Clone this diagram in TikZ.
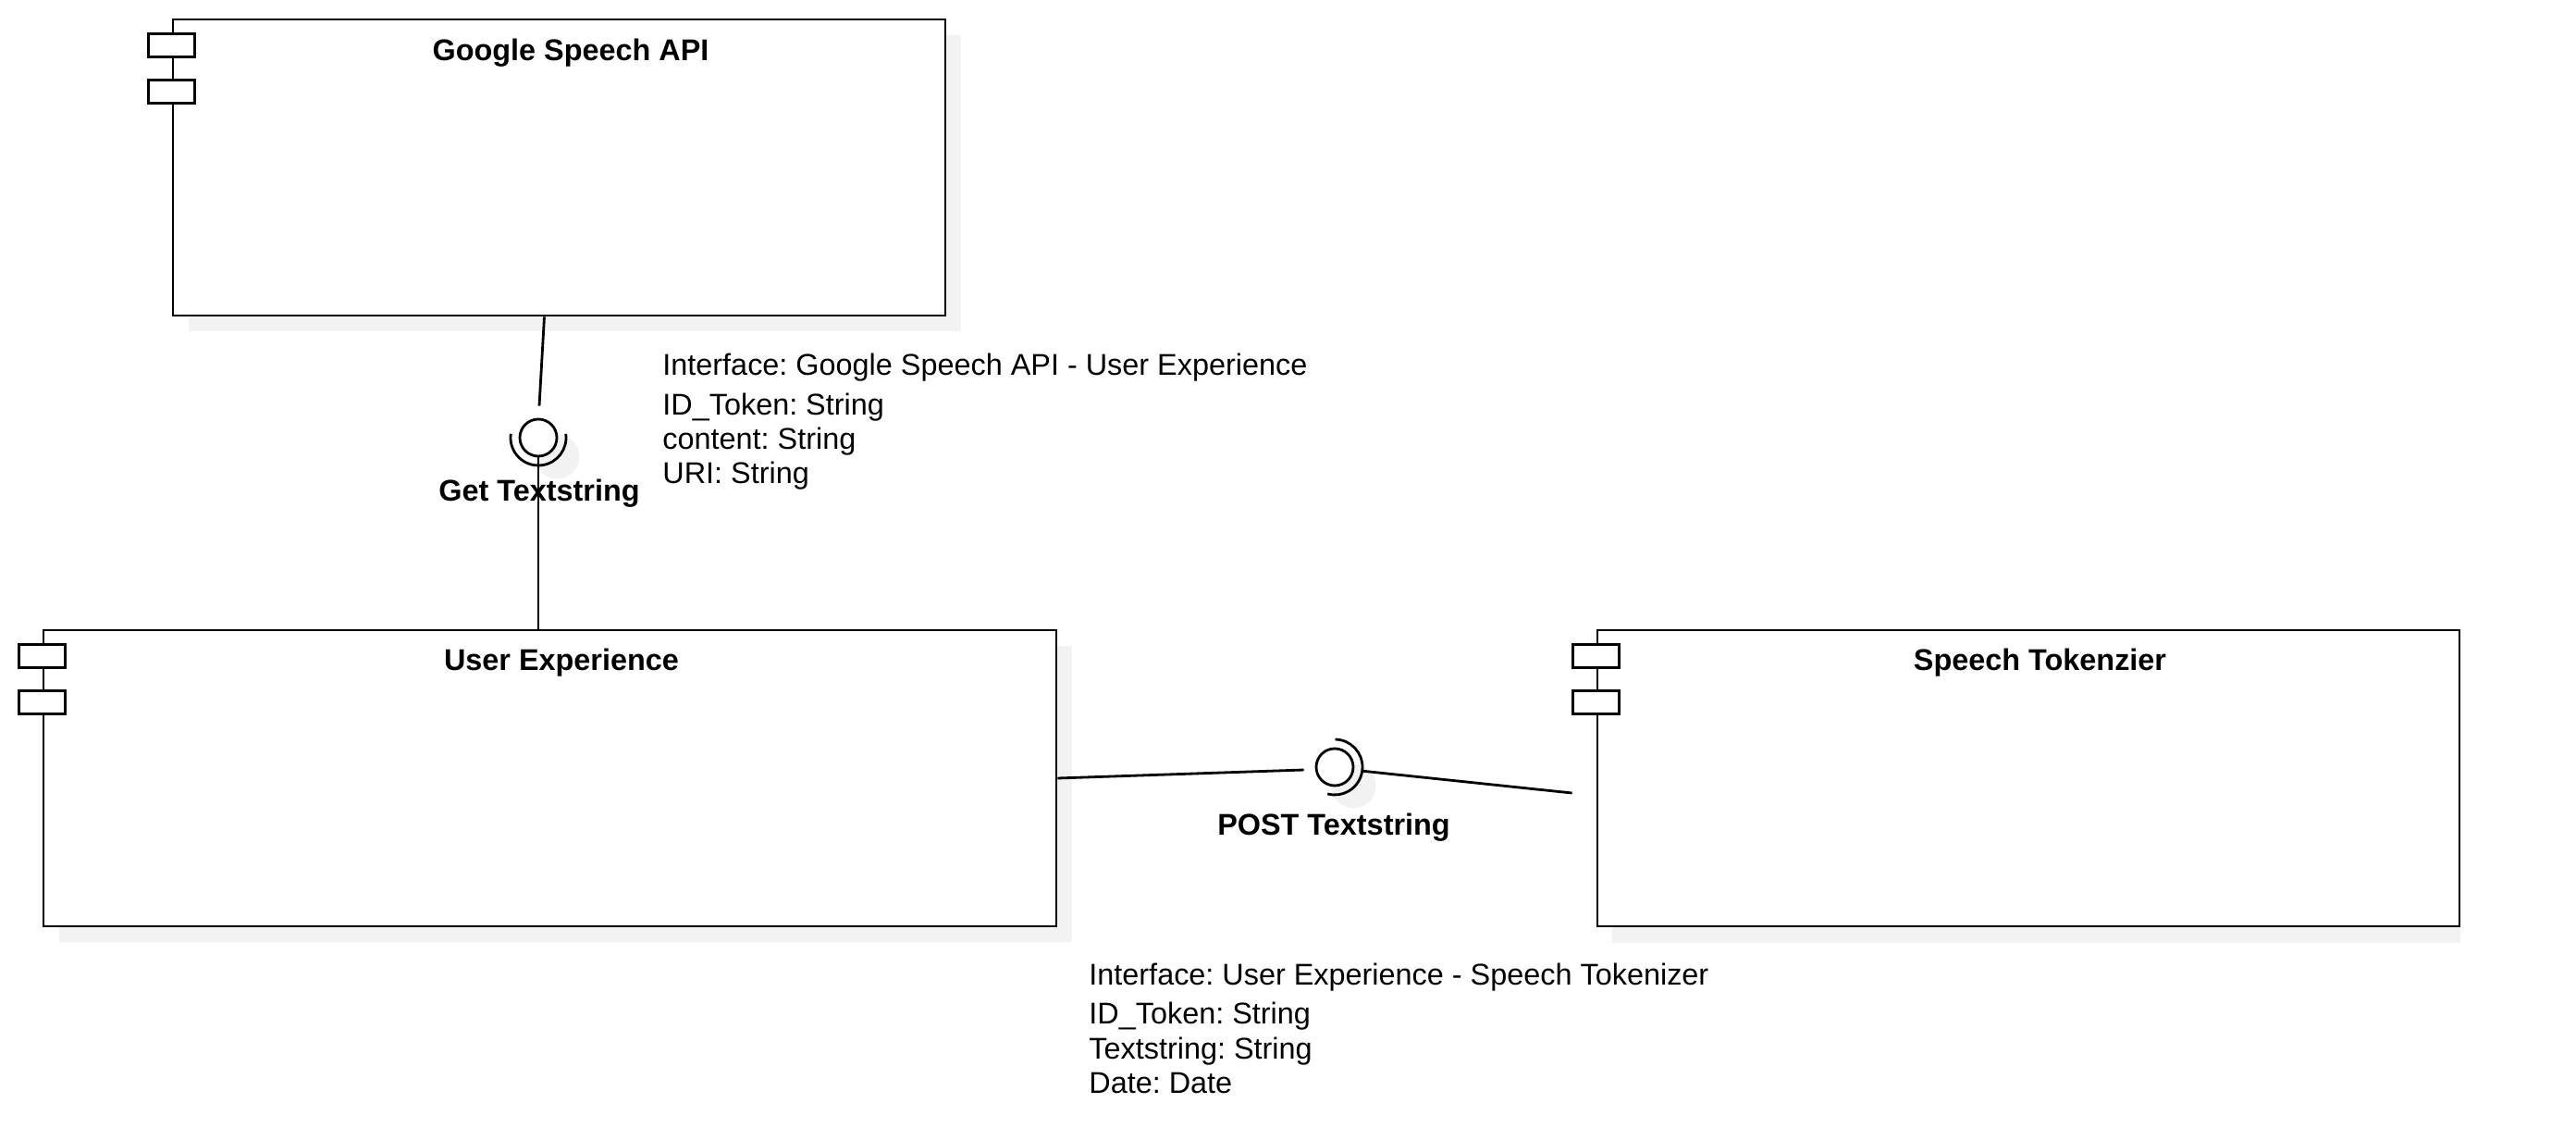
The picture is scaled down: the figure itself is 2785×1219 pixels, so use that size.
\documentclass[tikz,border=0pt]{standalone}
\usepackage{fontspec}
\setmainfont{Liberation Sans}
\usetikzlibrary{calc,shadows,backgrounds}
\frenchspacing

\definecolor{shadowgray}{RGB}{242,242,242}

\begin{document}
\begin{tikzpicture}[x=0.5pt, y=-0.5pt, line width=1.4pt,
    every node/.style={font=\fontsize{16.2}{19}\selectfont},
    comp/.style={draw, fill=white, rectangle, inner sep=0pt, minimum height=160pt,
        drop shadow={shadow xshift=8.5pt, shadow yshift=-8.5pt, fill=shadowgray, opacity=1}},
    tab/.style={draw, fill=white, inner sep=0pt, minimum width=25pt, minimum height=12.5pt},
    iface/.style={draw, fill=white, circle, inner sep=0pt, minimum size=20pt,
        drop shadow={shadow xshift=8.5pt, shadow yshift=-8.5pt, shadow scale=1.2, fill=shadowgray, opacity=1}},
    title/.style={font=\fontsize{16.2}{19}\selectfont\bfseries, anchor=base, inner sep=0pt},
    attr/.style={anchor=base west, inner sep=0pt}]
    \useasboundingbox (0,0) rectangle (2785,1219);

    % Components
    \node[comp, minimum width=417.5pt] (gsapi) at (604.5,181) {};
    \node[comp, minimum width=547.5pt] (ux) at (594.5,841) {};
    \node[draw, fill=white, rectangle, inner sep=0pt, minimum height=160pt, minimum width=466pt] (tok) at (2193,841) {};
    \begin{scope}[on background layer]
        \fill[shadowgray] ($(tok.south west)+(17,0)$) rectangle ($(tok.south east)+(0,17)$);
    \end{scope}

    % Component tabs
    \foreach \c in {gsapi,ux,tok} {
        \node[tab] (\c-taba) at ($(\c.north west)+(0,29.5)$) {};
        \node[tab] (\c-tabb) at ($(\c.north west)+(0,79.5)$) {};
    }

    % Titles
    \node[title] (gstitle) at ($(gsapi.north)+(12.5,46)$) {Google Speech API};
    \node[title] (uxtitle) at ($(ux.north)+(12.5,45)$) {User Experience};
    \node[title] (toktitle) at ($(tok.north)+(12.5,45)$) {Speech Tokenzier};

    % Interfaces
    \node[iface] (gtiface) at (582,473) {};
    \node[iface] (postiface) at (1443,829) {};
    \draw (gtiface.center) ++(-8:30) arc[start angle=-8, end angle=188, radius=30];
    \draw (postiface.center) ++(-89:30) arc[start angle=-89, end angle=105, radius=30];

    % Connectors
    \draw ($(gsapi.south)+(-16,0)$) -- ($(gtiface.north)+(1,-13)$);
    \draw (gtiface.south) -- (gtiface |- ux.north);
    \draw (ux.east) -- ($(postiface.west)+(-12,3)$);
    \draw ($(postiface.center)+(8:30)$) -- ($(tok.west)+(-26,16)$);

    % Interface labels
    \node[title] (gtlabel) at (583,541) {Get Textstring};
    \node[title] (postlabel) at (1442,902) {POST Textstring};

    % Interface descriptions
    \node[attr] (gsuxhead) at (715,406) {Interface: Google Speech API - User Experience};
    \node[attr] (gsuxid) at (715,449) {ID\_Token: String};
    \node[attr] (gsuxcontent) at (715,486) {content: String};
    \node[attr] (gsuxuri) at (715,523) {URI: String};
    \node[attr] (uxtokhead) at (1176,1064) {Interface: User Experience - Speech Tokenizer};
    \node[attr] (uxtokid) at (1176,1106) {ID\_Token: String};
    \node[attr] (uxtoktext) at (1176,1144) {Textstring: String};
    \node[attr] (uxtokdate) at (1176,1181) {Date: Date};
\end{tikzpicture}
\end{document}
